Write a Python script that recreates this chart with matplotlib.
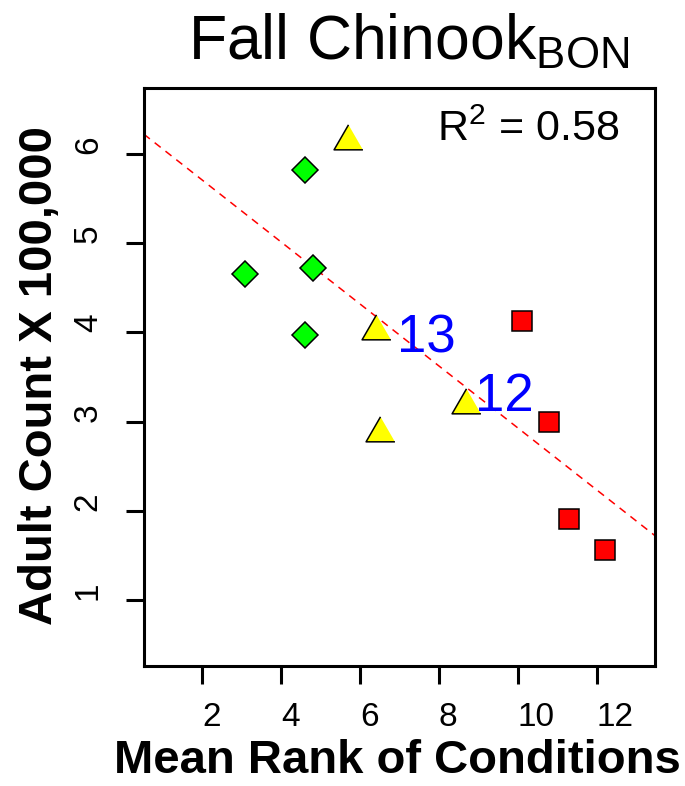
import numpy as np
import matplotlib
matplotlib.use("Agg")
import matplotlib.pyplot as plt

plt.rcParams["font.family"] = ["Liberation Sans", "DejaVu Sans"]
plt.rcParams["mathtext.fontset"] = "custom"
plt.rcParams["mathtext.rm"] = "Liberation Sans"
plt.rcParams["mathtext.it"] = "Liberation Sans:italic"
plt.rcParams["mathtext.bf"] = "Liberation Sans:bold"

# -----------------------
# Data
# -----------------------
good_rank = [3.09, 4.60, 4.80, 4.60]
good_count = [4.65, 5.82, 4.72, 3.97]

fair_rank = [5.71, 6.41, 6.51, 8.70]
fair_count = [6.15, 4.02, 2.87, 3.19]

poor_rank = [10.12, 10.80, 11.31, 12.21]
poor_count = [4.13, 2.99, 1.91, 1.56]

year_labels = ["13", "12"]
year_label_pos = [(7.69, 3.93), (9.67, 3.28)]

r2_text = "0.58"
x_ticks = [2, 4, 6, 8, 10, 12]
y_ticks = [1, 2, 3, 4, 5, 6]

# -----------------------
# Figure
# -----------------------
fig = plt.figure(figsize=(6.85, 7.86), dpi=100)
ax = fig.add_axes([0.210, 0.1527, 0.746, 0.7353])

# regression line across the whole plot (like abline)
all_x = np.array(good_rank + fair_rank + poor_rank)
all_y = np.array(good_count + fair_count + poor_count)
slope, intercept = np.polyfit(all_x, all_y, 1)
xl = (0.52, 13.48)
ax.plot(xl, [intercept + slope * v for v in xl], color="red", lw=1.1,
        ls=(0, (5, 4)), zorder=1)

tri = [(0, 1), (-0.866, -0.5), (0.866, -0.5)]
ax.plot(good_rank, good_count, ls="none", marker="D", ms=13.5,
        mfc="#00ff00", mec="black", mew=1.1, zorder=3)
ax.plot(fair_rank, fair_count, ls="none", marker=tri, ms=24,
        mfc="#ffff00", mec="black", mew=1.1, zorder=3)
ax.plot(poor_rank, poor_count, ls="none", marker="s", ms=14,
        mfc="#ff0000", mec="black", mew=1.1, zorder=3)

for lab, (tx, ty) in zip(year_labels, year_label_pos):
    ax.text(tx, ty, lab, color="#0000ff", fontsize=38, ha="center", va="center")

ax.text(0.931, 0.962, r"R$^{2}$ = " + r2_text, transform=ax.transAxes,
        ha="right", va="top", fontsize=31)

ax.set_xlim(*xl)
ax.set_ylim(0.26, 6.74)

for s in ax.spines.values():
    s.set_linewidth(2.2)

ax.set_xticks(x_ticks)
ax.set_yticks(y_ticks)
ax.tick_params(axis="both", length=13, width=2.2, labelsize=24)
ax.tick_params(axis="x", pad=13)
ax.tick_params(axis="y", pad=27)

# R puts the tick labels starting at the tick
for lbl in ax.get_xticklabels():
    lbl.set_ha("left")
for lbl in ax.get_yticklabels():
    lbl.set_rotation(90)
    lbl.set_va("bottom")
    lbl.set_ha("center")

ax.set_xlabel("Mean Rank of Conditions", fontsize=34, fontweight="bold", va="top")
ax.xaxis.set_label_coords(0.496, -0.126)
ax.set_ylabel("Adult Count X 100,000", fontsize=34, fontweight="bold")
ax.yaxis.set_label_coords(-0.160, 0.503)

fig.text(0.597, 0.925, r"Fall Chinook$_{\mathrm{BON}}$", ha="center",
         va="baseline", fontsize=45)

plt.savefig("out.png", dpi=100)
